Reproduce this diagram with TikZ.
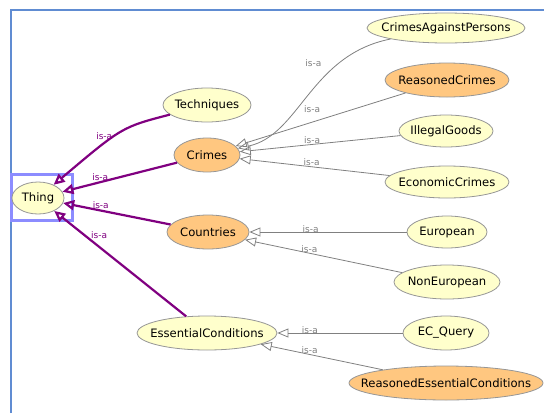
\documentclass[tikz,border=0pt]{standalone}
\usepackage{fontspec}
\setmainfont{DejaVu Sans}
\usetikzlibrary{shapes.geometric, arrows.meta}
\definecolor{classfill}{RGB}{255,255,204}
\definecolor{inferredfill}{RGB}{255,199,128}
\definecolor{isapurple}{RGB}{128,0,128}
\definecolor{frameblue}{RGB}{96,140,210}
\definecolor{selectblue}{RGB}{140,140,255}
\tikzstyle{cls}=[ellipse, draw={rgb,255:red,150;green,150;blue,150}, line width=0.8pt, fill=classfill, inner xsep=-40pt, inner ysep=-6pt, font=\fontsize{11.6}{13}\selectfont]
\tikzstyle{inferred}=[cls, fill=inferredfill]
\tikzstyle{isa}=[-{Triangle[open, length=11pt, width=9pt]}, gray, line width=0.8pt]
\tikzstyle{isatop}=[-{Triangle[open, length=11pt, width=10pt]}, isapurple, line width=2.2pt]
\tikzstyle{lbl}=[font=\fontsize{9}{10}\selectfont, inner sep=0.5pt, text=gray]
\tikzstyle{lbltop}=[lbl, text=isapurple]

\begin{document}
\begin{tikzpicture}[x=1pt, y=-1pt]
				\useasboundingbox (0,0) rectangle (544,413);
				\draw[frameblue, line width=2pt] (11,413) -- (11,10) -- (544,10);
				\draw[selectblue, line width=3pt] (11,174) rectangle (72,220);

				\node[cls, minimum width=52pt, minimum height=32pt] (Thing) at (38,198) {Thing};
				\node[cls, minimum width=88pt, minimum height=34pt] (Techniques) at (207,105) {Techniques};
				\node[inferred, minimum width=66pt, minimum height=34pt] (Crimes) at (207,155) {Crimes};
				\node[inferred, minimum width=82pt, minimum height=34pt] (Countries) at (208,232) {Countries};
				\node[cls, minimum width=140pt, minimum height=34pt] (EssentialConditions) at (207,333) {EssentialConditions};

				\node[cls, minimum width=158pt, minimum height=30pt] (CrimesAgainstPersons) at (446,28) {CrimesAgainstPersons};
				\node[inferred, minimum width=124pt, minimum height=34pt] (ReasonedCrimes) at (447,80) {ReasonedCrimes};
				\node[cls, minimum width=94pt, minimum height=32pt] (IllegalGoods) at (446,131) {IllegalGoods};
				\node[cls, minimum width=124pt, minimum height=32pt] (EconomicCrimes) at (447,182) {EconomicCrimes};
				\node[cls, minimum width=80pt, minimum height=32pt] (European) at (447,232) {European};
				\node[cls, minimum width=106pt, minimum height=34pt] (NonEuropean) at (447,282) {NonEuropean};
				\node[cls, minimum width=86pt, minimum height=34pt] (ECQuery) at (446,333) {EC\_Query};
				\node[inferred, minimum width=194pt, minimum height=34pt] (ReasonedEssentialConditions) at (446,383) {ReasonedEssentialConditions};

				\draw[isatop] (Techniques) .. controls (122,127) .. (Thing) node[lbltop, pos=0.66, above=2pt] {is-a};
				\draw[isatop] (Crimes) -- (Thing) node[lbltop, pos=0.67, above] {is-a};
				\draw[isatop] (Countries) -- (Thing) node[lbltop, pos=0.65, above] {is-a};
				\draw[isatop] (EssentialConditions) -- (Thing) node[lbltop, pos=0.77, right=5pt] {is-a};

				\draw[isa] (CrimesAgainstPersons) .. controls (310,55) and (300,135) .. (Crimes) node[lbl, pos=0.27, left=16pt] {is-a};
				\draw[isa] (ReasonedCrimes) -- (Crimes) node[lbl, pos=0.55, above=9pt] {is-a};
				\draw[isa] (IllegalGoods) -- (Crimes) node[lbl, pos=0.55, above] {is-a};
				\draw[isa] (EconomicCrimes) -- (Crimes) node[lbl, pos=0.52, above] {is-a};

				\draw[isa] (European) -- (Countries) node[lbl, pos=0.61, above=-2pt] {is-a};
				\draw[isa] (NonEuropean) -- (Countries) node[lbl, pos=0.59, above] {is-a};

				\draw[isa] (ECQuery) -- (EssentialConditions) node[lbl, pos=0.74, above=-2pt] {is-a};
				\draw[isa] (ReasonedEssentialConditions) -- (EssentialConditions) node[lbl, pos=0.6, above] {is-a};
			\end{tikzpicture}
\end{document}
